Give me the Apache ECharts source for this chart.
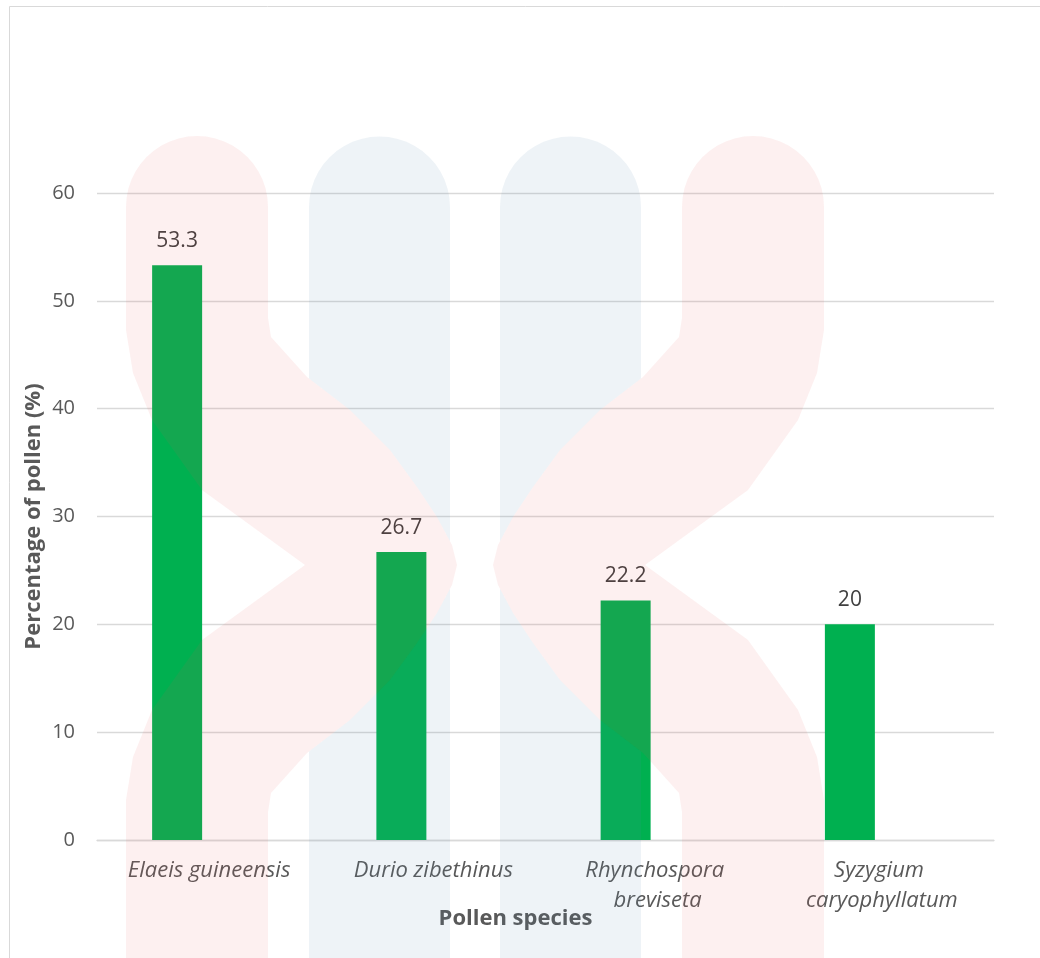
<!DOCTYPE html>
<html>
<head>
<meta charset="utf-8">
<title>Percentage of pollen by species</title>
<script src="https://cdn.jsdelivr.net/npm/echarts@6/dist/echarts.min.js"></script>
<style>
  html, body { margin: 0; padding: 0; background: #ffffff; }
  #chart { width: 1040px; height: 958px; }
</style>
</head>
<body>
<div id="chart"></div>
<script>
// Pollen species and their share of the pollen load (%)
const species = ['Elaeis guineensis', 'Durio zibethinus', 'Rhynchospora breviseta', 'Syzygium caryophyllatum'];
const pollenPercent = [53.3, 26.7, 22.2, 20];
// second slot of each cluster is left empty
const emptySlot = [null, null, null, null];
const yTicks = { min: 0, max: 60, interval: 10 };

const FONT = '"Open Sans", "Noto Sans", sans-serif';

// Points of a half circle forming a rounded pillar cap
function capArc(cx, cy, r, steps) {
  const pts = [];
  for (let i = 0; i <= steps; i++) {
    const a = Math.PI + (Math.PI * i) / steps;
    pts.push([cx + r * Math.cos(a), cy + r * Math.sin(a)]);
  }
  return pts;
}

// y of a polyline (sorted by x) at a given x
function yAt(line, x) {
  for (let i = 1; i < line.length; i++) {
    const a = line[i - 1], b = line[i];
    if (x <= b[0]) return a[1] + (b[1] - a[1]) * (x - a[0]) / (b[0] - a[0]);
  }
  return line[line.length - 1][1];
}

// Faint decorative emblem laid over the plot
const pink = 'rgba(230, 80, 80, 0.085)';
const blue = 'rgba(85, 135, 175, 0.1)';
const upperRight = [[268, 318], [271, 337], [307, 377], [350, 410], [390, 450], [417, 487], [437, 517], [452, 545], [457, 565]];
const lowerRight = upperRight.slice(0, -1).reverse().map(p => [p[0], 1130 - p[1]]);
const lowerLeft = [[126, 800], [133, 757], [152, 710], [202, 640], [305, 565]];
const upperLeft = lowerLeft.slice(0, -1).reverse().map(p => [p[0], 1130 - p[1]]);
const leftBand = capArc(197, 207, 71, 24)
  .concat(upperRight, lowerRight, [[268, 1000], [126, 1000]], lowerLeft, upperLeft);
const rightBand = leftBand.map(p => [950 - p[0], p[1]]);

// Blue pillar, cut where the pink band passes over it
const pL = 309, pR = 450;
const inside = upperRight.filter(p => p[0] > pL && p[0] < pR);
const cutTop = [[pR, yAt(upperRight, pR)]].concat(inside.slice().reverse(), [[pL, yAt(upperRight, pL)]]);
const pillarTop = capArc((pL + pR) / 2, 207, (pR - pL) / 2, 24).concat(cutTop);
const pillarBottom = cutTop.map(p => [p[0], 1130 - p[1]]).reverse().concat([[pR, 1000], [pL, 1000]]);
const mirror = pts => pts.map(p => [950 - p[0], p[1]]);

const emblem = [
  { type: 'polygon', shape: { points: pillarTop }, style: { fill: blue } },
  { type: 'polygon', shape: { points: pillarBottom }, style: { fill: blue } },
  { type: 'polygon', shape: { points: mirror(pillarTop) }, style: { fill: blue } },
  { type: 'polygon', shape: { points: mirror(pillarBottom) }, style: { fill: blue } },
  { type: 'polygon', shape: { points: leftBand }, style: { fill: pink } },
  { type: 'polygon', shape: { points: rightBand }, style: { fill: pink } }
].map(el => Object.assign(el, { silent: true, z: 100 }));

const chart = echarts.init(document.getElementById('chart'), null, { renderer: 'canvas' });

chart.setOption({
  backgroundColor: '#ffffff',
  animation: false,
  textStyle: { fontFamily: FONT },
  grid: { left: 97, right: 46, top: 193, bottom: 118 },
  graphic: [
    {
      type: 'rect', silent: true, z: 0,
      shape: { x: 9.5, y: 6.5, width: 1200, height: 1200 },
      style: { fill: 'none', stroke: '#d9d9d9', lineWidth: 1 }
    }
  ].concat(emblem),
  xAxis: {
    type: 'category',
    data: species,
    name: 'Pollen species',
    nameLocation: 'middle',
    nameGap: 68,
    nameMoveOverlap: false,
    nameTextStyle: { fontFamily: FONT, fontSize: 22, fontWeight: 'bold', color: '#595959', padding: [0, 60, 0, 0] },
    axisLine: { show: true, lineStyle: { color: '#d9d9d9', width: 1.3 } },
    axisTick: { show: false },
    axisLabel: {
      interval: 0,
      margin: 16,
      fontFamily: FONT,
      fontSize: 22,
      fontStyle: 'italic',
      color: '#595959',
      lineHeight: 30,
      width: 185,
      overflow: 'break'
    }
  },
  yAxis: {
    type: 'value',
    min: yTicks.min,
    max: yTicks.max,
    interval: yTicks.interval,
    name: 'Percentage of pollen (%)',
    nameLocation: 'middle',
    nameGap: 52,
    nameMoveOverlap: false,
    nameTextStyle: { fontFamily: FONT, fontSize: 22, fontWeight: 'bold', color: '#595959' },
    axisLine: { show: false },
    axisTick: { show: false },
    axisLabel: { margin: 22, fontFamily: FONT, fontSize: 20, color: '#595959' },
    splitLine: { show: true, lineStyle: { color: '#d9d9d9', width: 1.3 } }
  },
  series: [
    {
      type: 'bar',
      data: pollenPercent,
      barWidth: 50,
      barGap: '28%',
      itemStyle: { color: '#00b050' },
      label: {
        show: true,
        position: 'top',
        distance: 14,
        fontFamily: FONT,
        fontSize: 21,
        color: '#404040'
      }
    },
    {
      type: 'bar',
      data: emptySlot,
      barWidth: 50,
      barGap: '28%',
      itemStyle: { color: '#00b050' }
    }
  ]
});
</script>
</body>
</html>
